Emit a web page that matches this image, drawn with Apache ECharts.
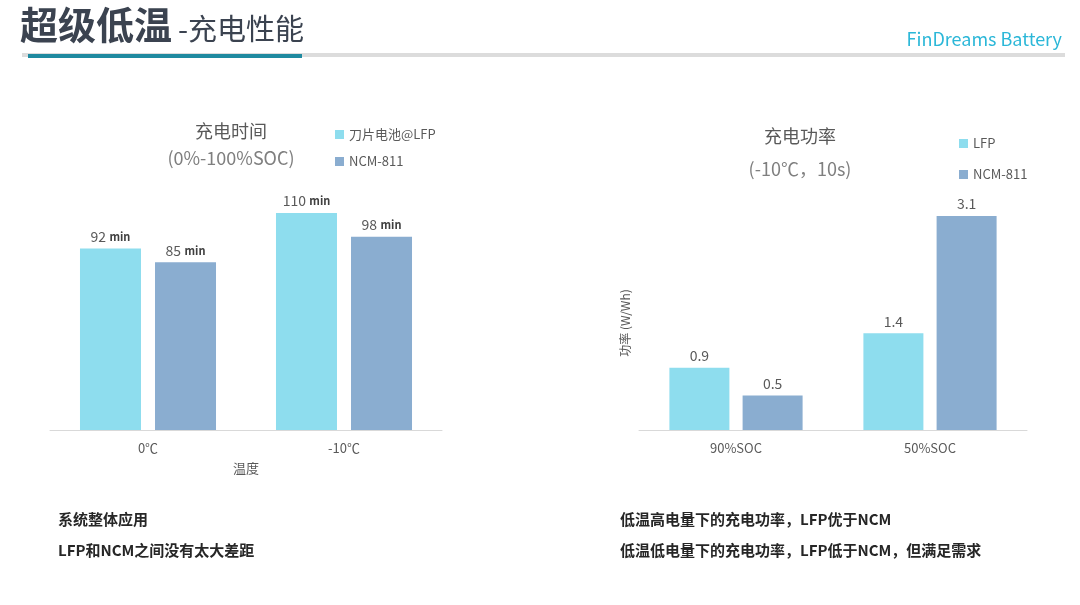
<!DOCTYPE html>
<html><head><meta charset="utf-8">
<script src="https://cdn.jsdelivr.net/npm/echarts@6/dist/echarts.min.js"></script>
<style>html,body{margin:0;padding:0;background:#fff}#c{width:1080px;height:605px}</style>
</head><body><div id="c"></div>
<script>
const leftCategories = ['0℃', '-10℃'];
const leftLFP = [92, 110];
const leftNCM = [85, 98];
const rightCategories = ['90%SOC', '50%SOC'];
const rightLFP = [0.9, 1.4];
const rightNCM = [0.5, 3.1];
const cLFP = '#8EDDEE', cNCM = '#8AADD0';
const F = '"Noto Sans CJK SC","Noto Sans",sans-serif';
const chart = echarts.init(document.getElementById('c'));
const minLabel = {show:true, position:'top', formatter:'{a|{c}} {b|min}', rich:{a:{fontSize:14,color:'#595959',fontFamily:F}, b:{fontSize:11,fontWeight:'bold',color:'#404040',fontFamily:F}}};
const numLabel = {show:true, position:'top', fontSize:14, color:'#595959', fontFamily:F};
const axisCommon = {axisTick:{show:false}, axisLine:{lineStyle:{color:'#d9d9d9'}}, axisLabel:{color:'#595959', fontSize:13, fontFamily:F, margin:12}};
chart.setOption({
  animation:false,
  grid:[{left:50, width:392, top:213, height:217},{left:639, width:388, top:216, height:214}],
  xAxis:[
    Object.assign({type:'category', data:leftCategories, gridIndex:0, name:'温度', nameLocation:'middle', nameGap:32, nameTextStyle:{color:'#595959',fontSize:13,fontFamily:F}}, axisCommon),
    Object.assign({type:'category', data:rightCategories, gridIndex:1}, axisCommon)
  ],
  yAxis:[
    {type:'value', gridIndex:0, min:0, max:110, show:false},
    {type:'value', gridIndex:1, min:0, max:3.1, name:'功率 (W/Wh)', nameLocation:'middle', nameRotate:90, nameGap:8, nameTextStyle:{color:'#595959',fontSize:12,fontFamily:F}, axisLine:{show:false}, axisTick:{show:false}, axisLabel:{show:false}, splitLine:{show:false}}
  ],
  series:[
    {type:'bar', name:'刀片电池@LFP', xAxisIndex:0, yAxisIndex:0, data:leftLFP, itemStyle:{color:cLFP}, barWidth:61, barGap:'23%', label:minLabel},
    {type:'bar', name:'NCM-811', xAxisIndex:0, yAxisIndex:0, data:leftNCM, itemStyle:{color:cNCM}, barWidth:61, barGap:'23%', label:minLabel},
    {type:'bar', name:'LFP', xAxisIndex:1, yAxisIndex:1, data:rightLFP, itemStyle:{color:cLFP}, barWidth:60, barGap:'22%', label:numLabel},
    {type:'bar', name:'NCM-811 ', xAxisIndex:1, yAxisIndex:1, data:rightNCM, itemStyle:{color:cNCM}, barWidth:60, barGap:'22%', label:numLabel}
  ],
  legend:[
    {data:['刀片电池@LFP'], left:330, top:123, itemWidth:9, itemHeight:9, icon:'rect', itemGap:3, textStyle:{color:'#595959',fontSize:13,fontFamily:F}},
    {data:['NCM-811'], left:330, top:150, itemWidth:9, itemHeight:9, icon:'rect', textStyle:{color:'#595959',fontSize:13,fontFamily:F}},
    {data:['LFP'], left:954, top:132, itemWidth:9, itemHeight:9, icon:'rect', textStyle:{color:'#595959',fontSize:13,fontFamily:F}},
    {data:['NCM-811 '], left:954, top:163, itemWidth:9, itemHeight:9, icon:'rect', textStyle:{color:'#595959',fontSize:13,fontFamily:F}}
  ],
  graphic:[
    {type:'text', left:20, top:6, style:{text:'超级低温', font:'bold 38px '+F, fill:'#3b4350'}},
    {type:'text', left:178, top:14, style:{text:'-充电性能', font:'29px '+F, fill:'#3b4350'}},
    {type:'text', right:18, top:30, style:{text:'FinDreams Battery', font:'18px '+F, fill:'#2bb7d8'}},
    {type:'rect', shape:{x:22, y:53, width:1043, height:4}, style:{fill:'#dcdcdc'}},
    {type:'rect', shape:{x:28, y:54, width:274, height:4}, style:{fill:'#1f8aa0'}},
    {type:'text', x:231, y:131, style:{text:'充电时间', font:'18px '+F, fill:'#595959', align:'center', verticalAlign:'middle'}},
    {type:'text', x:231, y:158, style:{text:'(0%-100%SOC)', font:'18px '+F, fill:'#7f7f7f', align:'center', verticalAlign:'middle'}},
    {type:'text', x:800, y:136, style:{text:'充电功率', font:'18px '+F, fill:'#595959', align:'center', verticalAlign:'middle'}},
    {type:'text', x:800, y:169, style:{text:'(-10℃，10s)', font:'18px '+F, fill:'#7f7f7f', align:'center', verticalAlign:'middle'}},
    {type:'text', left:58, top:512, style:{text:'系统整体应用', font:'bold 15px '+F, fill:'#262626'}},
    {type:'text', left:58, top:543, style:{text:'LFP和NCM之间没有太大差距', font:'bold 15px '+F, fill:'#262626'}},
    {type:'text', left:620, top:512, style:{text:'低温高电量下的充电功率，LFP优于NCM', font:'bold 15px '+F, fill:'#262626'}},
    {type:'text', left:620, top:543, style:{text:'低温低电量下的充电功率，LFP低于NCM，但满足需求', font:'bold 15px '+F, fill:'#262626'}}
  ]
});
</script></body></html>
